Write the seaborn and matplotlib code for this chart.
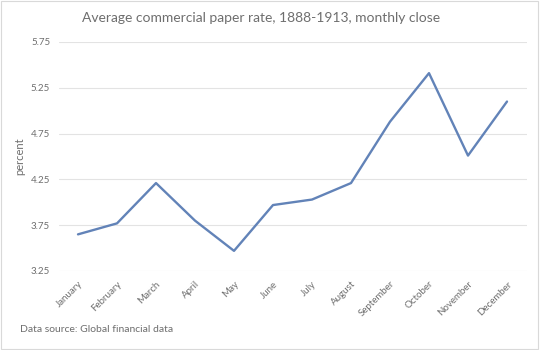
import pandas as pd
import matplotlib
matplotlib.use('Agg')
import matplotlib.pyplot as plt
import seaborn as sns

months = ['January', 'February', 'March', 'April', 'May', 'June', 'July',
          'August', 'September', 'October', 'November', 'December']
rate = [3.65, 3.77, 4.21, 3.80, 3.47, 3.97, 4.03, 4.21, 4.88, 5.41, 4.51, 5.10]
yticks = [3.25, 3.75, 4.25, 4.75, 5.25, 5.75]

data = pd.DataFrame({'month': months, 'rate': rate})

sns.set_style('white')
plt.rcParams['font.family'] = ['Lato', 'DejaVu Sans']
grey = '#6E6E6E'

fig = plt.figure(figsize=(5.4, 3.5), dpi=100)
ax = fig.add_axes([58.5 / 540, 1 - 271 / 350, 468 / 540, 229 / 350])
sns.lineplot(x='month', y='rate', data=data, sort=False, color='#6283B8',
             linewidth=1.7, ax=ax)

ax.set_xlim(-0.5, 11.5)
ax.set_ylim(3.25, 5.75)
ax.set_yticks(yticks)
ax.set_yticklabels([f'{v:.2f}' for v in yticks], fontsize=7, color=grey)
ax.set_xticks(range(len(months)))
ax.set_xticklabels(months, rotation=45, ha='right', rotation_mode='anchor',
                   fontsize=7, color=grey)
ax.tick_params(axis='both', length=0, pad=6)
ax.grid(axis='y', color='#E3E3E3', linewidth=0.8)
ax.set_axisbelow(True)
for s in ax.spines.values():
    s.set_visible(False)
ax.set_xlabel('')
ax.set_ylabel('percent', fontsize=8, color=grey, labelpad=4)

fig.text(261 / 540, 1 - 18 / 350, 'Average commercial paper rate, 1888-1913, monthly close',
         ha='center', va='center', fontsize=10, color=grey)
fig.text(20 / 540, 1 - 330 / 350, 'Data source: Global financial data',
         ha='left', va='center', fontsize=7.5, color=grey)

# chart frame
fig.patches.append(plt.Rectangle((0.002, 0.003), 0.994, 0.994, transform=fig.transFigure,
                                 fill=False, edgecolor='#D9D9D9', linewidth=0.8))

fig.savefig('out.png', dpi=100)
